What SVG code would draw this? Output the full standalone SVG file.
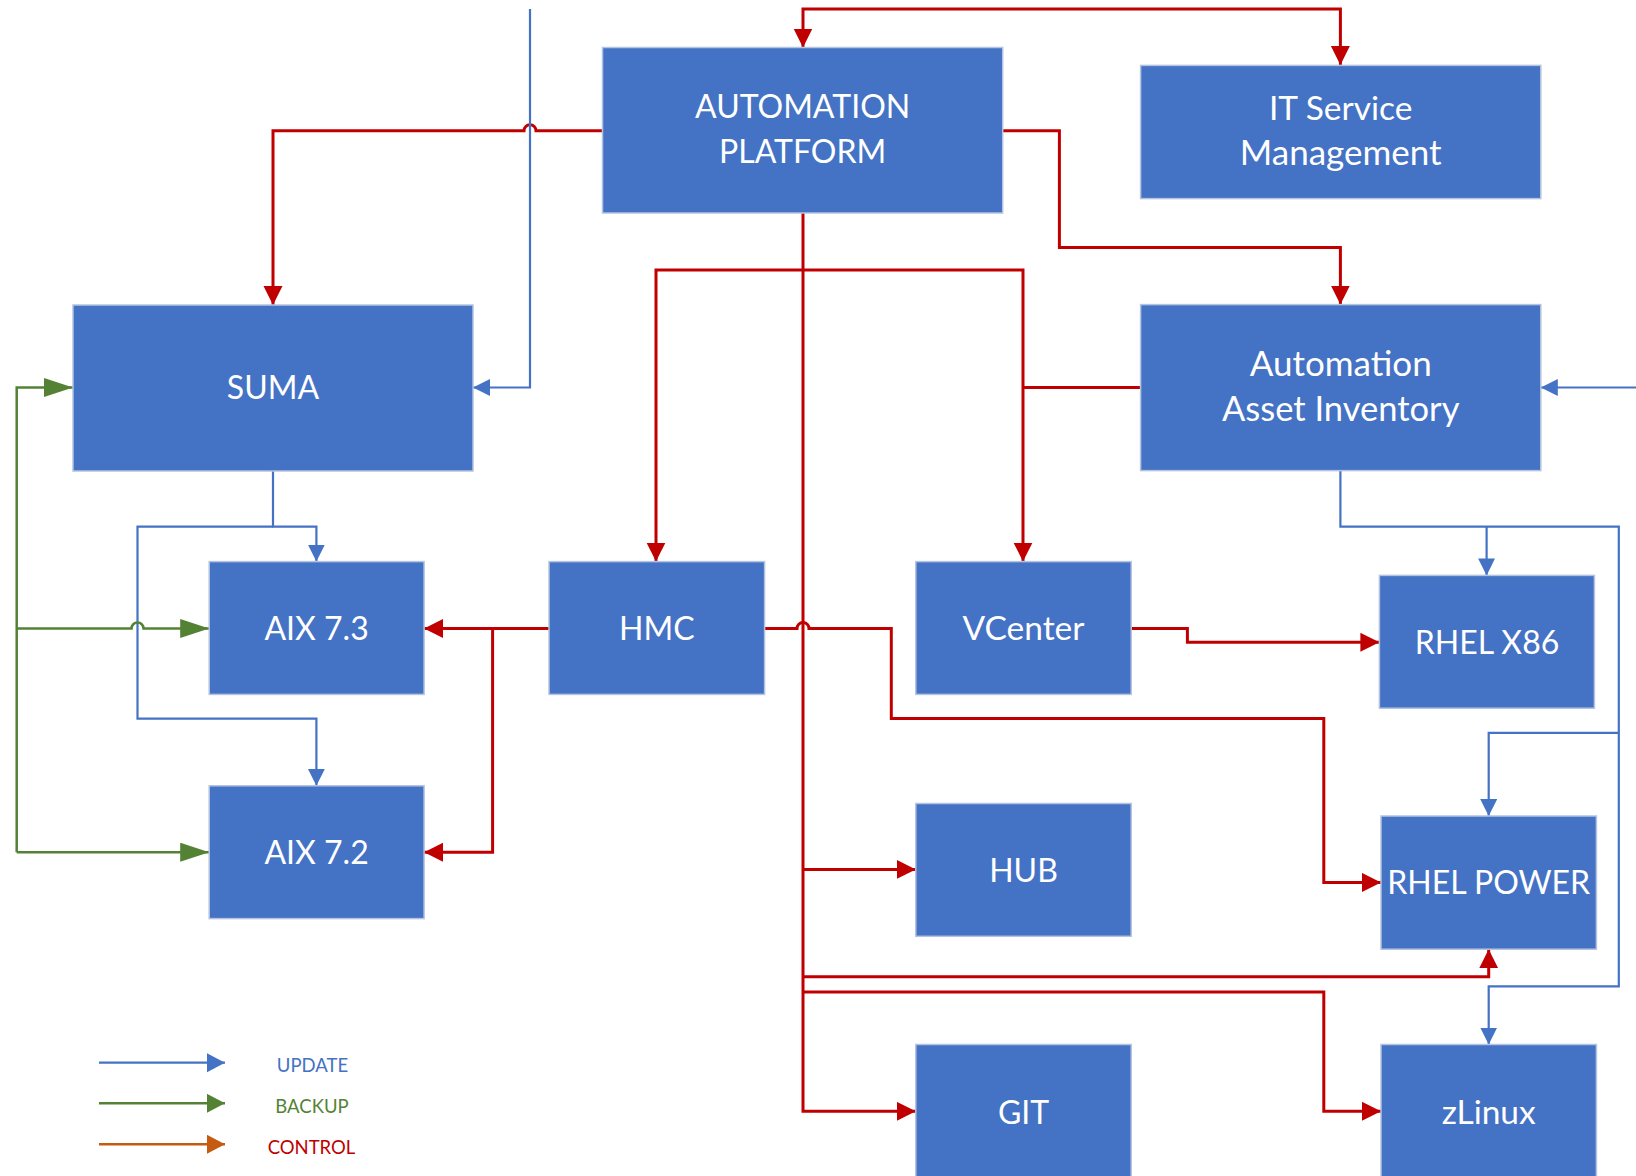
<svg xmlns="http://www.w3.org/2000/svg" width="1636" height="1176" viewBox="0 0 1636 1176">
<style>
.box{fill:#4472C4;stroke:#B4C3E0;stroke-width:1.5}
.lbl{font-family:Lato,"Liberation Sans",sans-serif;font-size:32px;fill:#FFFFFF;text-anchor:middle}
.r{fill:none;stroke:#C00000;stroke-width:3}
.b{fill:none;stroke:#4472C4;stroke-width:2.2}
.g{fill:none;stroke:#548235;stroke-width:2.5}
.o{fill:none;stroke:#C55A11;stroke-width:2.5}
.leg{font-family:Lato,"Liberation Sans",sans-serif;font-size:18.5px;text-anchor:middle}
</style>
<defs>
<marker id="ar" markerUnits="userSpaceOnUse" markerWidth="20" markerHeight="20" refX="19" refY="9.5" orient="auto-start-reverse"><path d="M0,0 L19,9.5 L0,19 z" fill="#C00000"/></marker>
<marker id="ab" markerUnits="userSpaceOnUse" markerWidth="18" markerHeight="18" refX="17" refY="8.5" orient="auto-start-reverse"><path d="M0,0 L17,8.5 L0,17 z" fill="#4472C4"/></marker>
<marker id="ag" markerUnits="userSpaceOnUse" markerWidth="30" markerHeight="20" refX="29" refY="9.5" orient="auto"><path d="M0,0 L29,9.5 L0,19 z" fill="#548235"/></marker>
<marker id="ab2" markerUnits="userSpaceOnUse" markerWidth="19" markerHeight="20" refX="18" refY="9.5" orient="auto"><path d="M0,0 L18,9.5 L0,19 z" fill="#4472C4"/></marker>
<marker id="ag2" markerUnits="userSpaceOnUse" markerWidth="19" markerHeight="20" refX="18" refY="9.5" orient="auto"><path d="M0,0 L18,9.5 L0,19 z" fill="#548235"/></marker>
<marker id="ao2" markerUnits="userSpaceOnUse" markerWidth="19" markerHeight="20" refX="18" refY="9.5" orient="auto"><path d="M0,0 L18,9.5 L0,19 z" fill="#C55A11"/></marker>
</defs>
<rect width="1636" height="1176" fill="#FFFFFF"/>

<g id="connectors">
<path class="r" d="M803,47.5 V9 H1340.4 V65" marker-start="url(#ar)" marker-end="url(#ar)"/>
<path class="r" d="M602.5,130.7 H536 A6,6 0 0 0 524,130.7 H273 V305" marker-end="url(#ar)"/>
<path class="r" d="M1002.7,130.7 H1059.4 V247.5 H1340.4 V304.6" marker-end="url(#ar)"/>
<path class="r" d="M803,213 V1111.3 H915.8" marker-end="url(#ar)"/>
<path class="r" d="M803,869.4 H915.8" marker-end="url(#ar)"/>
<path class="r" d="M803,976.8 H1488.7 V949.2" marker-end="url(#ar)"/>
<path class="r" d="M803,991.9 H1323.8 V1111.3 H1381" marker-end="url(#ar)"/>
<path class="r" d="M656,561.6 V270 H1023 V561.6" marker-start="url(#ar)" marker-end="url(#ar)"/>
<path class="r" d="M1140.6,387.5 H1023"/>
<path class="r" d="M549,628.5 H424.1" marker-end="url(#ar)"/>
<path class="r" d="M492.6,628.5 V852.2 H424.1" marker-end="url(#ar)"/>
<path class="r" d="M764.6,628.5 H797 A6,6 0 0 1 809,628.5 H891.3 V718.6 H1323.8 V882.4 H1381" marker-end="url(#ar)"/>
<path class="r" d="M1131.2,628.5 H1187.4 V642.3 H1379.4" marker-end="url(#ar)"/>
<path class="b" d="M530,9 V387.5 H473" marker-end="url(#ab)"/>
<path class="b" d="M273,471 V526.7 H316.4 V561.6" marker-end="url(#ab)"/>
<path class="b" d="M273,526.7 H137.5 V718.6 H316.4 V785.8" marker-end="url(#ab)"/>
<path class="b" d="M1636,387.5 H1540.8" marker-end="url(#ab)"/>
<path class="b" d="M1340.4,470.6 V526.7 H1618.8 V986.3 H1488.7 V1044.5" marker-end="url(#ab)"/>
<path class="b" d="M1486.6,526.7 V575.4" marker-end="url(#ab)"/>
<path class="b" d="M1618.8,732.8 H1488.7 V816" marker-end="url(#ab)"/>
<path class="g" d="M16.7,852.2 V387.5 H73" marker-end="url(#ag)"/>
<path class="g" d="M16.7,628.5 H131.5 A6,6 0 0 1 143.5,628.5 H209.2" marker-end="url(#ag)"/>
<path class="g" d="M16.7,852.2 H209.2" marker-end="url(#ag)"/>
</g>

<g id="node-automation-platform"><rect class="box" x="602.5" y="47.5" width="400.2" height="165.5"/><text class="lbl" x="802.6" y="118">AUTOMATION</text><text class="lbl" x="802.6" y="163">PLATFORM</text></g>
<g id="node-itsm"><rect class="box" x="1140.6" y="65.4" width="400.2" height="133.2"/><text class="lbl" x="1340.7" y="120" style="font-size:33.5px">IT Service</text><text class="lbl" x="1340.7" y="165" style="font-size:35px">Management</text></g>
<g id="node-suma"><rect class="box" x="73" y="305" width="400" height="166"/><text class="lbl" x="273" y="399">SUMA</text></g>
<g id="node-aai"><rect class="box" x="1140.6" y="304.6" width="400.2" height="166"/><text class="lbl" x="1340.7" y="376" style="font-size:35px">Automation</text><text class="lbl" x="1340.7" y="421" style="font-size:34.5px">Asset Inventory</text></g>
<g id="node-aix73"><rect class="box" x="209.2" y="561.6" width="214.9" height="132.8"/><text class="lbl" x="316.6" y="640">AIX 7.3</text></g>
<g id="node-hmc"><rect class="box" x="549" y="561.6" width="215.6" height="132.8"/><text class="lbl" x="656.8" y="640">HMC</text></g>
<g id="node-vcenter"><rect class="box" x="915.8" y="561.6" width="215.4" height="132.8"/><text class="lbl" x="1023.5" y="640" style="font-size:33.5px">VCenter</text></g>
<g id="node-rhelx86"><rect class="box" x="1379.4" y="575.4" width="215" height="132.8"/><text class="lbl" x="1487" y="653.5">RHEL X86</text></g>
<g id="node-aix72"><rect class="box" x="209.2" y="785.8" width="214.9" height="132.8"/><text class="lbl" x="316.6" y="864">AIX 7.2</text></g>
<g id="node-hub"><rect class="box" x="915.8" y="803.5" width="215.4" height="132.8"/><text class="lbl" x="1023.5" y="881.5">HUB</text></g>
<g id="node-rhelpower"><rect class="box" x="1381" y="816" width="215.4" height="133.2"/><text class="lbl" x="1488.7" y="894">RHEL POWER</text></g>
<g id="node-git"><rect class="box" x="915.8" y="1044.5" width="215.4" height="136"/><text class="lbl" x="1023.5" y="1123.5">GIT</text></g>
<g id="node-zlinux"><rect class="box" x="1381" y="1044.5" width="215.4" height="136"/><text class="lbl" x="1488.7" y="1123.5" style="font-size:33.5px">zLinux</text></g>

<g id="legend">
<path class="b" d="M99,1062.7 H225" marker-end="url(#ab2)"/>
<path class="g" d="M99,1103.3 H225" marker-end="url(#ag2)"/>
<path class="o" d="M99,1144.3 H225" marker-end="url(#ao2)"/>
<text class="leg" x="312.5" y="1072" fill="#4472C4">UPDATE</text>
<text class="leg" x="312" y="1113" fill="#548235">BACKUP</text>
<text class="leg" x="311.5" y="1154" fill="#C00000">CONTROL</text>
</g>
</svg>
